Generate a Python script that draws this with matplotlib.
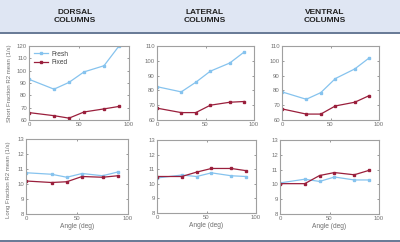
import matplotlib
matplotlib.use("Agg")
import matplotlib.pyplot as plt
from matplotlib.patches import Rectangle
from matplotlib.lines import Line2D

plt.rcParams["font.family"] = ["Liberation Sans", "DejaVu Sans"]

angles = [0, 25, 40, 55, 75, 90]
regions = ["DORSAL\nCOLUMNS", "LATERAL\nCOLUMNS", "VENTRAL\nCOLUMNS"]

short_fresh = [
    [93, 85, 90.5, 99, 104, 120],
    [82.5, 79, 85.5, 93, 98.5, 106],
    [79, 74, 78.5, 88, 94.5, 102],
]
short_fixed = [
    [66, 63.5, 61.5, 66.5, 69, 71],
    [68, 65, 65, 70, 72, 72.5],
    [67.5, 64, 64, 69.5, 72, 76.5],
]
long_fresh = [
    [10.75, 10.65, 10.45, 10.7, 10.55, 10.8],
    [10.4, 10.6, 10.5, 10.75, 10.55, 10.5],
    [10.1, 10.35, 10.2, 10.5, 10.3, 10.3],
]
long_fixed = [
    [10.2, 10.1, 10.15, 10.5, 10.45, 10.55],
    [10.5, 10.5, 10.8, 11.05, 11.05, 10.9],
    [10.05, 10.05, 10.6, 10.8, 10.65, 10.95],
]
short_ylims = [(60, 120), (60, 110), (60, 110)]

fresh_c = "#86c3ee"
fixed_c = "#9a1f3c"
frame_c = "#a0a0a0"
text_c = "#707070"

fig = plt.figure(figsize=(4, 2.42), dpi=100)
W, H = 400, 242

def px_axes(x0, y0, x1, y1):
    return fig.add_axes([x0 / W, (H - y1) / H, (x1 - x0) / W, (y1 - y0) / H])

# header band and rules
fig.patches.append(Rectangle((0, (H - 32) / H), 1, 32 / H, transform=fig.transFigure,
                             facecolor="#dfe6f3", edgecolor="none", zorder=0))
fig.add_artist(Line2D([0, 1], [(H - 32.5) / H] * 2, transform=fig.transFigure,
                      color="#5a6e8c", lw=1.3))
fig.add_artist(Line2D([0, 1], [(H - 240.5) / H] * 2, transform=fig.transFigure,
                      color="#5a6e8c", lw=1.3))

title_x = [75, 205, 325]
for tx, name in zip(title_x, regions):
    fig.text(tx / W, (H - 16.5) / H, name, ha="center", va="center",
             fontsize=6, fontweight="bold", linespacing=1.1, color="#222222")

top_boxes = [(29, 46, 129, 120), (157, 46, 254, 120), (282, 46, 379, 120)]
bot_boxes = [(26, 139, 128, 214), (157, 140, 256, 213), (280, 140, 379, 214)]

def style(ax):
    for s in ax.spines.values():
        s.set_color(frame_c)
        s.set_linewidth(0.8)
    ax.tick_params(labelsize=4.3, colors=text_c, length=1.5, width=0.5,
                   direction="in", pad=1.5, top=True, right=True)
    ax.set_xlim(0, 100)
    ax.set_xticks([0, 50, 100])

for i in range(3):
    ax = px_axes(*top_boxes[i])
    ax.plot(angles, short_fresh[i], color=fresh_c, marker="s", ms=1.8, lw=0.9, label="Fresh")
    ax.plot(angles, short_fixed[i], color=fixed_c, marker="s", ms=1.8, lw=0.9, label="Fixed")
    ax.set_ylim(*short_ylims[i])
    ax.set_yticks(range(short_ylims[i][0], short_ylims[i][1] + 1, 10))
    style(ax)
    if i == 0:
        ax.legend(loc="upper left", fontsize=4.8, frameon=False, handlelength=2.2,
                  borderaxespad=0.3, labelspacing=0.2, handletextpad=0.4,
                  labelcolor="#444444")

    axb = px_axes(*bot_boxes[i])
    axb.plot(angles, long_fresh[i], color=fresh_c, marker="s", ms=1.8, lw=0.9)
    axb.plot(angles, long_fixed[i], color=fixed_c, marker="s", ms=1.8, lw=0.9)
    axb.set_ylim(8, 13)
    axb.set_yticks(range(8, 14))
    style(axb)
    axb.set_xlabel("Angle (deg)", fontsize=4.8, color=text_c, labelpad=1.5)

fig.text(10 / W, (H - 83) / H, "Short Fraction R2 mean (1/s)", rotation=90,
         ha="center", va="center", fontsize=4.3, color=text_c)
fig.text(9 / W, (H - 180) / H, "Long Fraction R2 mean (1/s)", rotation=90,
         ha="center", va="center", fontsize=4.3, color=text_c)

fig.savefig("out.png", dpi=100)
